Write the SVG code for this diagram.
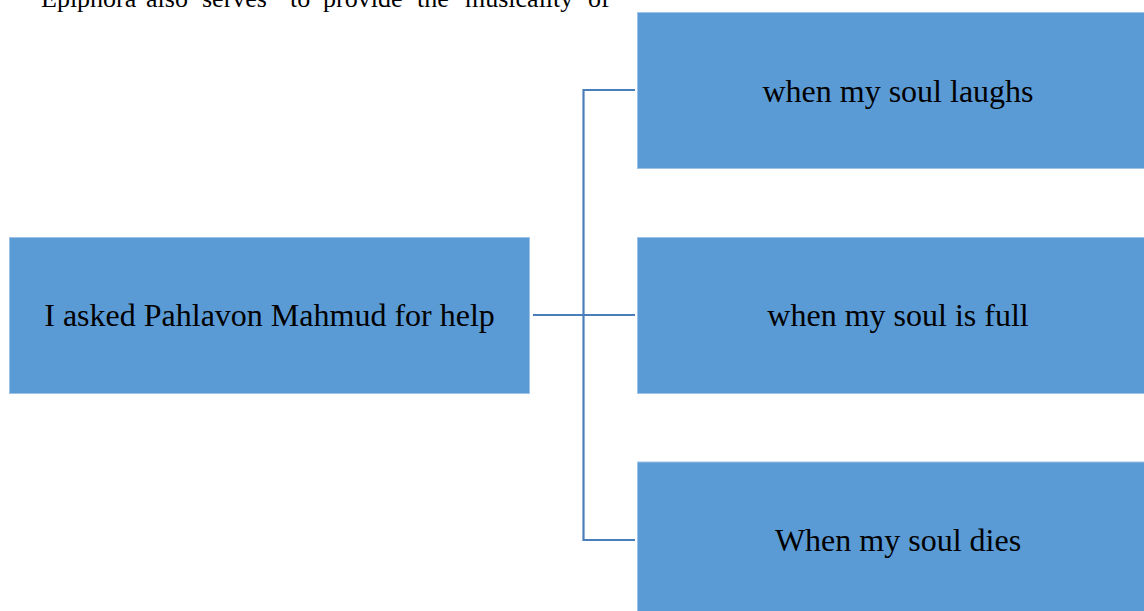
<svg xmlns="http://www.w3.org/2000/svg" width="1144" height="611" viewBox="0 0 1144 611">
<style>
.box{fill:#5B9BD5;stroke:#9DC3E6;stroke-width:1}
.lbl{font-family:"Liberation Serif","Times New Roman",serif;font-size:32px;fill:#000;text-anchor:middle}
.para{font-family:"Liberation Serif","Times New Roman",serif;font-size:26px;fill:#000}
.conn{fill:none;stroke:#4A7EBB;stroke-width:2.2}
</style>
<rect width="1144" height="611" fill="#fff"/>
<text class="para" y="6.5"><tspan x="41">Epiphora</tspan><tspan x="146">also</tspan><tspan x="202">serves</tspan><tspan x="290">to</tspan><tspan x="323">provide</tspan><tspan x="417">the</tspan><tspan x="465">musicality</tspan><tspan x="588">of</tspan></text>
<g id="connectors">
<path class="conn" d="M533 315 H635"/>
<path class="conn" d="M635 90 H583.5 V540 H635"/>
</g>
<g id="node-root">
<rect class="box" x="9.5" y="237.5" width="520" height="156"/>
<text class="lbl" x="269.5" y="326">I asked Pahlavon Mahmud for help</text>
</g>
<g id="node-laughs">
<rect class="box" x="637.5" y="12.5" width="521" height="156"/>
<text class="lbl" x="898" y="101.5">when my soul laughs</text>
</g>
<g id="node-full">
<rect class="box" x="637.5" y="237.5" width="521" height="156"/>
<text class="lbl" x="898" y="326">when my soul is full</text>
</g>
<g id="node-dies">
<rect class="box" x="637.5" y="462" width="521" height="156"/>
<text class="lbl" x="898" y="551">When my soul dies</text>
</g>
</svg>
